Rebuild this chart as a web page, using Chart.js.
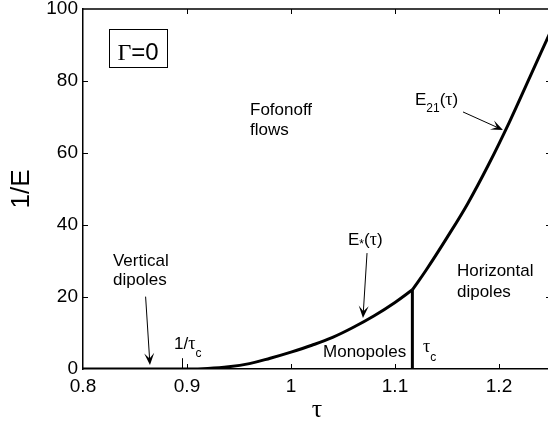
<!DOCTYPE html>
<html>
<head>
<meta charset="utf-8">
<script src="https://cdn.jsdelivr.net/npm/chart.js@4/dist/chart.umd.min.js"></script>
<style>
  html, body { margin: 0; padding: 0; overflow: hidden; background: #fff; }
  canvas { display: block; }
</style>
</head>
<body>
<canvas id="chart" width="552" height="426"></canvas>
<script>
// data
const tauC = 1.1167;
const invTauC = 1 / tauC;

const tauLow = [0.8, 0.9, 0.92, 0.94, 0.96, 0.98, 1.0, 1.02, 1.04, 1.06, 1.08, 1.1, 1.1167];
const eStar  = [0,   0,   0.15, 0.6,  1.5,  3.0,  4.7, 6.6,  8.8,  11.6, 14.8, 18.5, 22];

const tauUp = [1.1167, 1.13, 1.15, 1.17, 1.19, 1.21, 1.23, 1.25];
const e21   = [22,     27.5, 36.5, 46,   56.8, 68.6, 81.3, 94];

const tauCLine = [tauC, tauC];
const eCLine   = [0, 22];

const xTicks = [0.8, 0.9, 1.0, 1.1, 1.2];
const yTicks = [0, 20, 40, 60, 80, 100];

const SANS = '"Liberation Sans", Arial, sans-serif';
const SERIF = '"Liberation Serif", "Times New Roman", serif';

const toXY = (xs, ys) => xs.map((v, i) => ({x: v, y: ys[i]}));

function drawRuns(ctx, x, y, parts, align) {
  let w = 0;
  parts.forEach(p => { ctx.font = p[1]; w += ctx.measureText(p[0]).width; });
  if (align === "center") x -= w / 2;
  parts.forEach(p => {
    ctx.font = p[1];
    ctx.fillText(p[0], x, y + (p[2] || 0));
    x += ctx.measureText(p[0]).width;
  });
}

function arrow(ctx, x0, y0, x1, y1) {
  const a = Math.atan2(y1 - y0, x1 - x0);
  const dx = Math.cos(a), dy = Math.sin(a);
  const L = 12, W = 5;
  ctx.lineWidth = 1;
  ctx.beginPath();
  ctx.moveTo(x0, y0);
  ctx.lineTo(x1 - dx * 4, y1 - dy * 4);
  ctx.stroke();
  ctx.beginPath();
  ctx.moveTo(x1, y1);
  ctx.lineTo(x1 - dx * L - dy * W, y1 - dy * L + dx * W);
  ctx.lineTo(x1 - dx * L * 0.55, y1 - dy * L * 0.55);
  ctx.lineTo(x1 - dx * L + dy * W, y1 - dy * L - dx * W);
  ctx.closePath();
  ctx.fill();
}

const frame = {
  id: "frame",
  afterDatasetsDraw(chart) {
    const {ctx, chartArea: a, scales: {x, y}} = chart;
    const X = v => x.getPixelForValue(v);
    const Y = v => y.getPixelForValue(v);
    ctx.save();
    ctx.strokeStyle = "#000";
    ctx.fillStyle = "#000";

    // box top/right and inward ticks
    ctx.lineWidth = 1.5;
    ctx.beginPath();
    ctx.moveTo(a.left, a.top); ctx.lineTo(a.right, a.top);
    ctx.moveTo(a.right, a.top); ctx.lineTo(a.right, a.bottom);
    ctx.stroke();
    ctx.lineWidth = 1;
    ctx.beginPath();
    xTicks.slice(1).forEach(v => {
      const p = Math.round(X(v)) + 0.5;
      ctx.moveTo(p, a.bottom); ctx.lineTo(p, a.bottom - 5);
      ctx.moveTo(p, a.top); ctx.lineTo(p, a.top + 5);
    });
    yTicks.slice(1, -1).forEach(v => {
      const p = Math.round(Y(v)) + 0.5;
      ctx.moveTo(a.left, p); ctx.lineTo(a.left + 5, p);
      ctx.moveTo(a.right, p); ctx.lineTo(a.right - 5, p);
    });
    // 1/tau_c marker
    const pc = Math.round(X(invTauC)) + 0.5;
    ctx.moveTo(pc, a.bottom); ctx.lineTo(pc, Y(3));
    ctx.stroke();

    // Gamma = 0 box
    ctx.lineWidth = 1;
    const bx0 = X(0.825), bx1 = X(0.8808), by0 = Y(94.4), by1 = Y(83.9);
    ctx.strokeRect(Math.round(bx0) + 0.5, Math.round(by0) + 0.5, Math.round(bx1 - bx0), Math.round(by1 - by0));
    ctx.textBaseline = "alphabetic";
    ctx.textAlign = "left";
    drawRuns(ctx, (bx0 + bx1) / 2, Y(85.8), [["\u0393", "24px " + SERIF], ["=0", "24px " + SANS]], "center");

    const f17 = "17px " + SANS, f12 = "12px " + SANS, t17 = "18px " + SERIF;
    ctx.font = f17;
    ctx.fillText("Fofonoff", X(0.9606), Y(70.6));
    ctx.fillText("flows", X(0.9606), Y(65.0));
    ctx.fillText("Vertical", X(0.8288), Y(28.6));
    ctx.fillText("dipoles", X(0.8288), Y(23.3));
    ctx.fillText("Horizontal", X(1.1596), Y(25.8));
    ctx.fillText("dipoles", X(1.1596), Y(20.0));
    ctx.fillText("Monopoles", X(1.0308), Y(3.4));

    drawRuns(ctx, X(1.1192), Y(73.3), [["E", f17], ["21", f12, 7], ["(", f17], ["\u03c4", t17], [")", f17]]);
    drawRuns(ctx, X(1.0548), Y(34.4), [["E", f17], ["*", f12, 3], ["(", f17], ["\u03c4", t17], [")", f17]]);
    drawRuns(ctx, X(0.8875), Y(5.6), [["1/", f17], ["\u03c4", t17], ["c", f12, 8]]);
    drawRuns(ctx, X(1.1269), Y(4.8), [["\u03c4", t17], ["c", f12, 9]]);

    arrow(ctx, X(1.1654), Y(71.4), X(1.2038), Y(66.4));
    arrow(ctx, X(1.0731), Y(32.2), X(1.0692), Y(14.2));
    arrow(ctx, X(0.8602), Y(20.1), X(0.8644), Y(1.1));
    ctx.restore();
  }
};

const lineStyle = {
  showLine: true, pointRadius: 0, borderColor: "#000", borderWidth: 3,
  fill: false, tension: 0.4, borderJoinStyle: "round"
};

new Chart(document.getElementById("chart"), {
  type: "scatter",
  data: {
    datasets: [
      Object.assign({label: "E*", data: toXY(tauLow, eStar)}, lineStyle),
      Object.assign({label: "E21", data: toXY(tauUp, e21)}, lineStyle),
      Object.assign({label: "tau_c", data: toXY(tauCLine, eCLine)}, lineStyle, {tension: 0})
    ]
  },
  options: {
    responsive: false,
    animation: false,
    events: [],
    layout: {padding: {top: 9, right: 1, left: 0, bottom: 0}},
    plugins: {legend: {display: false}, tooltip: {enabled: false}},
    scales: {
      x: {
        type: "linear", min: 0.8, max: 1.25,
        afterFit: s => { s.height = 57; s.paddingLeft = 0; s.paddingRight = 0; },
        afterBuildTicks: s => { s.ticks = xTicks.map(v => ({value: v})); },
        grid: {display: false, drawTicks: false},
        border: {display: true, color: "#000", width: 1.5},
        ticks: {color: "#000", padding: 6, font: {family: SANS, size: 19},
                callback: v => String(Math.round(v * 10) / 10)},
        title: {display: true, text: "\u03c4", color: "#000", padding: {top: 0, bottom: 0},
                font: {family: SERIF, size: 26}}
      },
      y: {
        type: "linear", min: 0, max: 100,
        afterFit: s => { s.width = 83; s.paddingTop = 0; s.paddingBottom = 0; },
        afterBuildTicks: s => { s.ticks = yTicks.map(v => ({value: v})); },
        grid: {display: false, drawTicks: false},
        border: {display: true, color: "#000", width: 1.5},
        ticks: {color: "#000", padding: 5, font: {family: SANS, size: 19}},
        title: {display: true, text: "1/E", color: "#000", padding: {top: 6, bottom: 0},
                font: {family: SANS, size: 26}}
      }
    }
  },
  plugins: [frame]
});
</script>
</body>
</html>
